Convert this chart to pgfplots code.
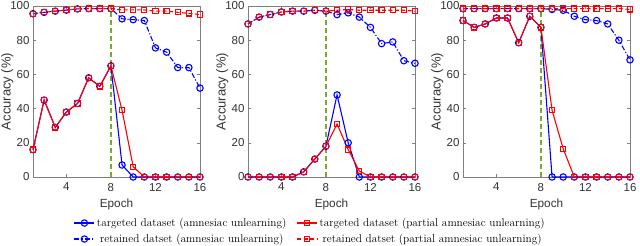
\documentclass[border=0pt]{standalone}
\usepackage{fontspec}
\usepackage{pgfplots}
\pgfplotsset{compat=1.18}
\newfontfamily\arial{Liberation Sans}
\definecolor{mgreen}{rgb}{0.466,0.674,0.188}
\pgfplotsset{
  acc/.style={
    scale only axis, width=167pt, height=171pt,
    xmin=1, xmax=16, ymin=0, ymax=100,
    xtick={4,8,12,16}, ytick={0,20,...,100},
    tick align=inside, major tick length=3pt,
    axis line style={black!50, line width=0.5pt},
    every tick/.style={black!50, line width=0.5pt},
    tick label style={font=\arial\fontsize{11.5}{13}\selectfont, text=black!80},
    xticklabel style={yshift=-2.5pt},
    /pgf/number format/assume math mode=true,
    xlabel={Epoch}, ylabel={Accuracy (\%)},
    every axis y label/.style={at={(axis description cs:-0.154,0.5)}, rotate=90, anchor=center,
      font=\arial\fontsize{13}{14}\selectfont, text=black!80},
    every axis x label/.style={at={(axis description cs:0.5,-0.158)}, anchor=center,
      font=\arial\fontsize{11.8}{13}\selectfont, text=black!80},
    clip=false,
  },
  ta/.style={blue, line width=1.1pt, mark=o, mark size=3.2pt, mark options={solid}},
  tp/.style={red, line width=1.1pt, mark=square, mark size=2.6pt, mark options={solid}},
  ra/.style={blue, line width=1.1pt, dash pattern=on 5pt off 2pt on 1.2pt off 2pt, mark=o, mark size=3.2pt, mark options={solid}},
  rp/.style={red, line width=1.1pt, dash pattern=on 4pt off 2.5pt, mark=square, mark size=2.6pt, mark options={solid}},
  vline/.style={color=mgreen, line width=1.2pt, dash pattern=on 5pt off 3pt, forget plot, mark=none},
}
\begin{document}
\begin{tikzpicture}
\useasboundingbox (0pt,0pt) rectangle (640pt,246pt);
% Panel 1
\begin{axis}[acc, at={(33pt,69pt)}, anchor=south west]
\addplot[vline] coordinates {(8,0) (8,100)};
\addplot[ta] coordinates {(1,16)(2,45)(3,29)(4,38)(5,43)(6,58)(7,53)(8,65)(9,7)(10,0)(11,0)(12,0)(13,0)(14,0)(15,0)(16,0)};
\addplot[tp] coordinates {(1,16)(2,45)(3,29)(4,38)(5,43)(6,58)(7,53)(8,65)(9,39)(10,6)(11,0)(12,0)(13,0)(14,0)(15,0)(16,0)};
\addplot[ra] coordinates {(1,95.5)(2,96.3)(3,97)(4,97.6)(5,98.3)(6,98.5)(7,98.5)(8,98.5)(9,92.5)(10,92)(11,91.5)(12,75.5)(13,73)(14,64)(15,64)(16,52)};
\addplot[rp] coordinates {(1,95.5)(2,96.3)(3,97)(4,97.6)(5,98.3)(6,98.5)(7,98.5)(8,98.5)(9,97.7)(10,97.7)(11,97.7)(12,97)(13,97)(14,96.3)(15,95.7)(16,95)};
\end{axis}
% Panel 2
\begin{axis}[acc, at={(248pt,69pt)}, anchor=south west,
  legend columns=2,
  legend style={at={(0.373,-0.316)}, anchor=center, draw=none, fill=none,
    font=\fontsize{11.3}{13}\selectfont, inner sep=0pt,
    /tikz/every even column/.append style={column sep=8pt},
    /tikz/every odd row/.append style={row sep=2pt}},
  legend image code/.code={\draw[#1] (0pt,0pt) -- (10pt,0pt) -- (20pt,0pt); \draw[#1,solid] plot coordinates {(10pt,0pt)};},
]
\addplot[vline] coordinates {(8,0) (8,100)};
\addplot[ta] coordinates {(1,0)(2,0)(3,0)(4,0)(5,0)(6,3)(7,10.5)(8,18)(9,48)(10,20)(11,0)(12,0)(13,0)(14,0)(15,0)(16,0)};
\addlegendentry{targeted dataset (amnesiac unlearning)}
\addplot[tp] coordinates {(1,0)(2,0)(3,0)(4,0)(5,0)(6,3)(7,10.5)(8,18)(9,31)(10,16)(11,3.5)(12,0)(13,0)(14,0)(15,0)(16,0)};
\addlegendentry{targeted dataset (partial amnesiac unlearning)}
\addplot[ra] coordinates {(1,89.5)(2,93.5)(3,95)(4,96.5)(5,97)(6,97)(7,97.5)(8,97)(9,95)(10,96)(11,93.5)(12,87.5)(13,78)(14,79)(15,68)(16,66.5)};
\addlegendentry{retained datset (amnesiac unlearning)}
\addplot[rp] coordinates {(1,89.5)(2,93.5)(3,95)(4,96.5)(5,97)(6,97)(7,97.5)(8,97)(9,97.5)(10,98)(11,97.5)(12,97.5)(13,97.5)(14,97.5)(15,97.5)(16,97)};
\addlegendentry{retained datset (partial amnesiac unlearning)}
\end{axis}
% Panel 3
\begin{axis}[acc, at={(463pt,69pt)}, anchor=south west]
\addplot[vline] coordinates {(8,0) (8,100)};
\addplot[ta] coordinates {(1,91.5)(2,87.5)(3,89.5)(4,93)(5,93)(6,78.5)(7,94)(8,87.5)(9,0)(10,0)(11,0)(12,0)(13,0)(14,0)(15,0)(16,0)};
\addplot[tp] coordinates {(1,91.5)(2,87.5)(3,89.5)(4,93)(5,93)(6,78.5)(7,94)(8,87.5)(9,39)(10,16.5)(11,0)(12,0)(13,0)(14,0)(15,0)(16,0)};
\addplot[ra] coordinates {(1,98.5)(2,98.5)(3,98.5)(4,98.5)(5,98.5)(6,98.5)(7,98.5)(8,98.5)(9,98)(10,97.5)(11,94)(12,92)(13,91.5)(14,89.5)(15,80)(16,68.5)};
\addplot[rp] coordinates {(1,98.5)(2,98.5)(3,98.5)(4,98.5)(5,98.5)(6,98.5)(7,98.5)(8,98.5)(9,98.5)(10,98.5)(11,98.5)(12,98.5)(13,98.5)(14,98.5)(15,98.5)(16,98)};
\end{axis}
\end{tikzpicture}
\end{document}
